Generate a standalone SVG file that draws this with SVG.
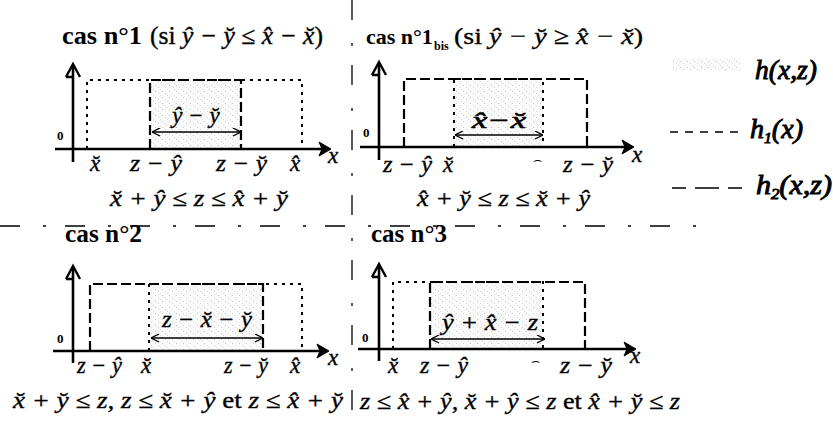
<svg xmlns="http://www.w3.org/2000/svg" width="833" height="425" viewBox="0 0 833 425">
<style>
.bg{fill:#fff}
.axis{stroke:#000;stroke-width:2.6;fill:none}
.ahead{fill:#000;stroke:#000;stroke-width:1}
.yhead{stroke:#000;stroke-width:2.4;fill:none}
.h1{stroke:#000;stroke-width:2;stroke-dasharray:3 5;fill:none}
.h2{stroke:#000;stroke-width:2.2;stroke-dasharray:10 4;fill:none}
.dim{stroke:#000;stroke-width:1.4;fill:none;marker-start:url(#dl);marker-end:url(#dr)}
.div{stroke:#000;stroke-width:1.3;stroke-dasharray:20 23 3 19;fill:none}
.shade{fill:url(#speck)}
.m{font-family:"Liberation Serif","Times New Roman",serif;font-style:italic;font-size:23px;fill:#000;stroke:#000;stroke-width:0.35}
.mb{font-family:"Liberation Serif","Times New Roman",serif;font-style:italic;font-size:23px;fill:#000;stroke:#000;stroke-width:0.6}
.up{font-style:normal}
.ttl{font-family:"Liberation Serif","Times New Roman",serif;font-weight:bold;font-size:25px;fill:#000}
.zero{font-family:"Liberation Serif","Times New Roman",serif;font-weight:bold;font-size:13px;fill:#000}
.leg{font-family:"Liberation Serif","Times New Roman",serif;font-style:italic;font-size:27px;fill:#000;stroke:#000;stroke-width:0.9}
.hat{font-family:"DejaVu Sans",sans-serif;font-size:14px;fill:#000}
</style>
<defs>
<pattern id="speck" width="7" height="6" patternUnits="userSpaceOnUse">
<rect width="7" height="6" fill="#fafafa"/>
<rect x="1" y="1" width="1" height="1" fill="#c8c8c8"/>
<rect x="4" y="3" width="1" height="1" fill="#d8d8d8"/>
<rect x="6" y="5" width="1" height="1" fill="#dedede"/>
</pattern>
<marker id="dr" viewBox="0 0 10 10" refX="10" refY="5" markerWidth="9" markerHeight="9" markerUnits="userSpaceOnUse" orient="auto">
<path d="M1,0.5 L10,5 L1,9.5" fill="none" stroke="#000" stroke-width="1.4"/>
</marker>
<marker id="dl" viewBox="0 0 10 10" refX="0" refY="5" markerWidth="9" markerHeight="9" markerUnits="userSpaceOnUse" orient="auto">
<path d="M9,0.5 L0,5 L9,9.5" fill="none" stroke="#000" stroke-width="1.4"/>
</marker>
</defs>
<rect class="bg" width="833" height="425"/>

<g id="dividers">
<path class="div" d="M352,0 V422"/>
<path class="div" d="M0,226 H700"/>
</g>

<g id="panel1">
<text class="ttl" x="62" y="44" textLength="80" lengthAdjust="spacingAndGlyphs">cas n°1</text>
<text class="m" x="150" y="44" style="font-size:25px" textLength="173" lengthAdjust="spacingAndGlyphs"><tspan class="up">(si </tspan>y&#x302; − y&#x306; ≤ x&#x302; − x&#x306;<tspan class="up">)</tspan></text>
<rect class="shade" x="150" y="80" width="91" height="69"/>
<path class="h1" d="M87,149 V80 H302 V149"/>
<path class="h2" d="M150,149 V80 H241 V149"/>
<path class="axis" d="M73,162 V66"/>
<path class="yhead" d="M66,77 L73,64 L80,77 M66,77 H73"/>
<path class="axis" d="M55,149 H326"/>
<path class="ahead" d="M319,142 L331,149 L319,156 L322,149 Z"/>
<path class="dim" d="M152,132 H241"/>
<text class="m" x="196" y="123" text-anchor="middle">y&#x302; − y&#x306;</text>
<text class="zero" x="57" y="140">0</text>
<text class="m" x="95" y="171" text-anchor="middle">x&#x306;</text>
<text class="m" x="130" y="171" textLength="52" lengthAdjust="spacingAndGlyphs">z − y&#x302;</text>
<text class="m" x="216" y="171" textLength="51" lengthAdjust="spacingAndGlyphs">z − y&#x306;</text>
<text class="m" x="295" y="171" text-anchor="middle">x&#x302;</text>
<text class="m" x="328" y="163">x</text>
<text class="m" x="110" y="206" textLength="178" lengthAdjust="spacingAndGlyphs">x&#x306; + y&#x302; ≤ z ≤ x&#x302; + y&#x306;</text>
</g>

<g id="panel1bis">
<text class="ttl" x="366" y="44" style="font-size:22px">cas n°1</text>
<text class="ttl" x="434" y="50" style="font-size:12px">bis</text>
<text class="m" x="454" y="44" style="font-size:24px" textLength="189" lengthAdjust="spacingAndGlyphs"><tspan class="up">(si </tspan>y&#x302; − y&#x306; ≥ x&#x302; − x&#x306;<tspan class="up">)</tspan></text>
<rect class="shade" x="454" y="79" width="89" height="68"/>
<path class="h2" d="M404,147 V79 H587 V147"/>
<path class="h1" d="M454,147 V79 H543 V147"/>
<path class="axis" d="M379,160 V64"/>
<path class="yhead" d="M372,75 L379,62 L386,75 M372,75 H379"/>
<path class="axis" d="M360,147 H629"/>
<path class="ahead" d="M622,140 L634,147 L622,154 L625,147 Z"/>
<path class="dim" d="M455,135 H543"/>
<text class="mb" x="472" y="128" textLength="54" lengthAdjust="spacingAndGlyphs">x&#x302;−x&#x306;</text>
<text class="zero" x="363" y="137">0</text>
<text class="m" x="383" y="172" textLength="49" lengthAdjust="spacingAndGlyphs">z − y&#x302;</text>
<text class="m" x="448" y="172" text-anchor="middle">x&#x306;</text>
<text class="hat" x="537" y="164" text-anchor="middle">⌢</text>
<text class="m" x="563" y="172" textLength="50" lengthAdjust="spacingAndGlyphs">z − y&#x306;</text>
<text class="m" x="632" y="162">x</text>
<text class="m" x="417" y="206" textLength="173" lengthAdjust="spacingAndGlyphs">x&#x302; + y&#x306; ≤ z ≤ x&#x306; + y&#x302;</text>
</g>

<g id="legend">
<rect class="shade" x="673" y="58" width="67" height="13"/>
<text class="leg" x="755" y="79" textLength="62" lengthAdjust="spacingAndGlyphs">h(x,z)</text>
<path d="M670,132 H742" stroke="#000" stroke-width="1.6" stroke-dasharray="8 7" fill="none"/>
<text class="leg" x="750" y="138" textLength="53" lengthAdjust="spacingAndGlyphs">h<tspan font-size="15" dy="5">1</tspan><tspan dy="-5">(x)</tspan></text>
<path d="M672,188 H743" stroke="#000" stroke-width="1.6" stroke-dasharray="14 9 24 9 14" fill="none"/>
<text class="leg" x="756" y="194" textLength="76" lengthAdjust="spacingAndGlyphs">h<tspan font-size="15" dy="5">2</tspan><tspan dy="-5">(x,z)</tspan></text>
</g>

<g id="panel2">
<text class="ttl" x="65" y="242" textLength="77" lengthAdjust="spacingAndGlyphs">cas n°2</text>
<rect class="shade" x="150" y="284" width="113" height="67"/>
<path class="h2" d="M90,351 V284 H263 V351"/>
<path class="h1" d="M149,351 V284 H302 V351"/>
<path class="axis" d="M73,363 V268"/>
<path class="yhead" d="M66,279 L73,266 L80,279 M66,279 H73"/>
<path class="axis" d="M53,351 H324"/>
<path class="ahead" d="M317,344 L329,351 L317,358 L320,351 Z"/>
<path class="dim" d="M151,338 H263"/>
<text class="m" x="162" y="327" textLength="90" lengthAdjust="spacingAndGlyphs">z − x&#x306; − y&#x306;</text>
<text class="zero" x="57" y="343">0</text>
<text class="m" x="77" y="373" textLength="45" lengthAdjust="spacingAndGlyphs">z − y&#x302;</text>
<text class="m" x="146" y="373" text-anchor="middle">x&#x306;</text>
<text class="m" x="224" y="373" textLength="44" lengthAdjust="spacingAndGlyphs">z − y&#x306;</text>
<text class="m" x="295" y="373" text-anchor="middle">x&#x302;</text>
<text class="m" x="328" y="365">x</text>
<text class="m" x="13" y="408" textLength="330" lengthAdjust="spacingAndGlyphs">x&#x306; + y&#x306; ≤ z, z ≤ x&#x306; + y&#x302; <tspan class="up">et</tspan> z ≤ x&#x302; + y&#x306;</text>
</g>

<g id="panel3">
<text class="ttl" x="371" y="242" textLength="76" lengthAdjust="spacingAndGlyphs">cas n°3</text>
<rect class="shade" x="430" y="282" width="113" height="67"/>
<path class="h1" d="M393,349 V282 H543 V349"/>
<path class="h2" d="M430,349 V282 H585 V349"/>
<path class="axis" d="M379,361 V266"/>
<path class="yhead" d="M372,277 L379,264 L386,277 M372,277 H379"/>
<path class="axis" d="M358,349 H631"/>
<path class="ahead" d="M624,342 L636,349 L624,356 L627,349 Z"/>
<path class="dim" d="M431,339 H545"/>
<text class="m" x="442" y="330" textLength="96" lengthAdjust="spacingAndGlyphs">y&#x302; + x&#x302; − z</text>
<text class="zero" x="362" y="342">0</text>
<text class="m" x="393" y="373" text-anchor="middle">x&#x306;</text>
<text class="m" x="420" y="373" textLength="48" lengthAdjust="spacingAndGlyphs">z − y&#x302;</text>
<text class="hat" x="535" y="365" text-anchor="middle">⌢</text>
<text class="m" x="560" y="373" textLength="52" lengthAdjust="spacingAndGlyphs">z − y&#x306;</text>
<text class="m" x="630" y="363">x</text>
<text class="m" x="360" y="409" textLength="320" lengthAdjust="spacingAndGlyphs">z ≤ x&#x302; + y&#x302;, x&#x306; + y&#x302; ≤ z <tspan class="up">et</tspan> x&#x302; + y&#x306; ≤ z</text>
</g>
</svg>
